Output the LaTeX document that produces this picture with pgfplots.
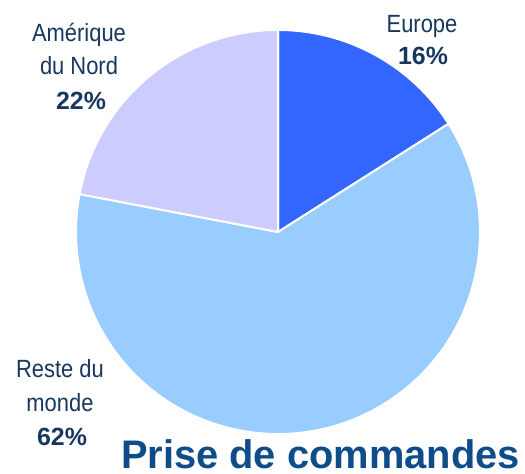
\documentclass[border=0pt]{standalone}
\usepackage{pgfplots}
\usepackage{pgfplotstable}
\usepackage{fontspec}
\pgfplotsset{compat=1.18}
\setmainfont{Liberation Sans}
\newfontfamily\narrowfont[FakeStretch=0.88]{Liberation Sans}

\definecolor{cEurope}{RGB}{51,102,255}
\definecolor{cReste}{RGB}{153,204,255}
\definecolor{cAmerique}{RGB}{204,204,255}
\definecolor{labelc}{RGB}{23,55,94}
\definecolor{titlec}{RGB}{15,76,138}

% share of orders (%), clockwise from 12 o'clock
\pgfplotstableread{
share col
16 cEurope
62 cReste
22 cAmerique
}\piedata

\begin{document}
\begin{tikzpicture}
\begin{axis}[
    x=1bp, y=1bp,
    xmin=0, xmax=525, ymin=0, ymax=474,
    hide axis,
    clip=false,
]
\path (axis cs:0,0) rectangle (axis cs:525,474);
\pgfplotsextra{
  \pgfplotstablegetrowsof{\piedata}
  \pgfmathtruncatemacro\nrows{\pgfplotsretval-1}
  \gdef\cum{0}
  \foreach \i in {0,...,\nrows}{
    \pgfplotstablegetelem{\i}{share}\of\piedata \let\sh\pgfplotsretval
    \pgfplotstablegetelem{\i}{col}\of\piedata \let\cl\pgfplotsretval
    \pgfmathsetmacro\aS{90-3.6*\cum}
    \pgfmathsetmacro\aE{\aS-3.6*\sh}
    \fill[\cl, draw=white, line width=2pt, line join=round]
      (axis cs:278,242) -- ++(\aS:202bp)
      arc[start angle=\aS, end angle=\aE, radius=202bp] -- cycle;
    \pgfmathsetmacro\c{\cum+\sh}\xdef\cum{\c}
  }
}
% labels
\begin{scope}[every node/.style={anchor=base, inner sep=0pt, text=labelc, font=\fontsize{25}{29}\selectfont}]
\node at (axis cs:422,441) {\narrowfont Europe};
\node at (axis cs:423,409) {\bfseries 16\%};
\node at (axis cs:79,432) {\narrowfont Amérique};
\node at (axis cs:79,399) {\narrowfont du Nord};
\node at (axis cs:81,364) {\bfseries 22\%};
\node at (axis cs:60,96) {\narrowfont Reste du};
\node at (axis cs:60,62) {\narrowfont monde};
\node at (axis cs:62,28) {\bfseries 62\%};
\end{scope}
\node[anchor=base east, inner sep=0pt, text=titlec, font=\fontsize{40}{46}\selectfont\bfseries]
  at (axis cs:520,5) {Prise de commandes};
\end{axis}
\end{tikzpicture}
\end{document}
